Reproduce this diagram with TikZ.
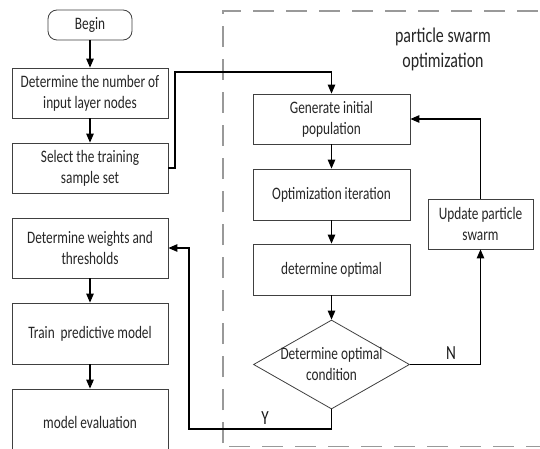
\documentclass[tikz,border=0pt]{standalone}
\usepackage{fontspec}
\setmainfont{Carlito}[FakeStretch=0.76]
\usetikzlibrary{arrows.meta,shapes.geometric}
\begin{document}
\begin{tikzpicture}[x=1pt,y=-1pt,
  txt/.style={text=black!85, font=\fontsize{17.5}{21}\selectfont, align=center},
  box/.style={txt, draw=black!75, line width=0.8pt, minimum width=156pt, inner sep=0pt},
  arr/.style={draw=black, line width=1.1pt, -{Triangle[length=9pt,width=7.5pt]}},
  ln/.style={draw=black, line width=1.1pt},
  lbl/.style={text=black!90, font=\fontsize{20}{22}\selectfont}
]
\useasboundingbox (0,0) rectangle (540,449);
\fill[white] (0,0) rectangle (540,449);
% dashed frame
\draw[gray!80, line width=1.4pt, dash pattern=on 21pt off 12pt]
  (223,443) -- (223,11) -- (545,11);
\draw[gray!80, line width=1.4pt, dash pattern=on 21pt off 12pt]
  (229,446.5) -- (545,446.5);
% left column
\node[box, rounded corners=9pt, minimum width=84pt, minimum height=30pt] (begin) at (90,25) {Begin};
\node[box, minimum height=50pt] (b1) at (90,93) {Determine the number of\\input layer nodes};
\node[box, minimum height=50pt] (b2) at (90,168) {Select the training\\sample set};
\node[box, minimum height=60pt] (b3) at (90,248) {Determine weights and\\thresholds};
\node[box, minimum height=61pt] (b4) at (90,333.5) {Train\ \ predictive model};
\node[box, minimum height=66pt] (b5) at (90,422) {model evaluation};
% right column
\node[txt, font=\fontsize{21}{25}\selectfont] (title) at (443,49) {particle swarm\\optimization};
\node[box, minimum width=157pt, minimum height=50pt] (g1) at (331.5,119) {Generate initial\\population};
\node[box, minimum width=157pt, minimum height=51pt] (g2) at (331.5,194.5) {Optimization iteration};
\node[box, minimum width=157pt, minimum height=51pt] (g3) at (331.5,269.5) {determine optimal};
\node[diamond, draw=black!75, line width=0.8pt, minimum width=156pt, minimum height=89pt, inner sep=0pt] (d) at (331.5,364.5) {};
\node[txt] (dt) at (331.5,364) {Determine optimal\\condition};
\node[box, minimum width=105pt, minimum height=50pt] (upd) at (480.5,224) {Update particle\\swarm};
% connectors
\coordinate (c1) at (175,72);
\coordinate (cy) at (189,429);
\draw[arr] (begin) -- (b1);
\draw[arr] (b1) -- (b2);
\draw[arr] (b3) -- (b4);
\draw[arr] (b4) -- (b5);
\draw[arr] (b2.east) -| (c1) -| (g1.north);
\draw[arr] (g1) -- (g2);
\draw[arr] (g2) -- (g3);
\draw[arr] (g3) -- (d.north);
\draw[arr] (d.east) -| (upd.south);
\draw[arr] (upd.north) |- (g1.east);
\draw[arr] (d.south) |- (cy) |- (b3.east);
\node[lbl] (n) at (451,353) {N};
\node[lbl] (y) at (265,418) {Y};
\end{tikzpicture}
\end{document}
